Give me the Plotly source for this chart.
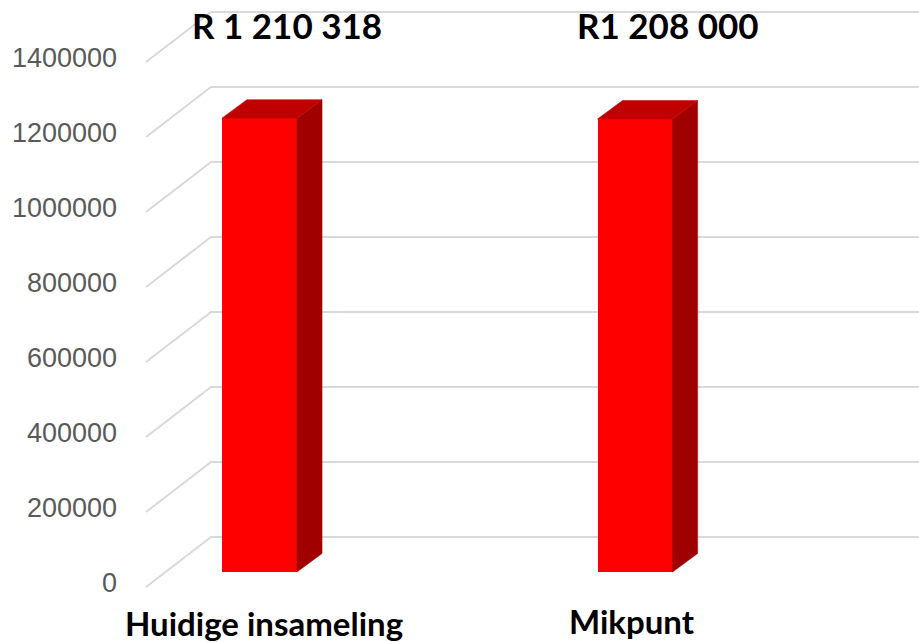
import plotly.graph_objects as go

# ---- data ----
categories = ["Huidige insameling", "Mikpunt"]
values = [1210318, 1208000]
value_labels = ["R 1 210 318", "R1 208 000"]
y_ticks = [0, 200000, 400000, 600000, 800000, 1000000, 1200000, 1400000]

# ---- 3D projection settings (in axis units) ----
X_RANGE = [-0.366, 1.756]
Y_RANGE = [-280000, 1432000]          # back-wall coordinates
WALL_DY = 133333                      # floor depth (front edge -> back wall)
WALL_X_FRONT = -0.302
WALL_X_BACK = -0.129
BAR_W = 0.2
BAR_BASE = -93333                     # bar front base relative to back wall
DEPTH_DX = 0.0666
DEPTH_DY = 49333
LABEL_SHIFT = 122667
VALUE_LABEL_DX = [0.072, 0.089]
CAT_LABEL_DX = [0.012, -0.008]
CAT_LABEL_Y = [1 - 623 / 642, 1 - 621 / 642]

FRONT = "#FF0000"
SIDE = "#A00000"
TOP = "#C00000"
GRID = "#D9D9D9"

fig = go.Figure()

# gridlines (diagonal on the side wall + horizontal on the back wall), below traces
for t in y_ticks:
    path = (f"M {WALL_X_FRONT},{t - WALL_DY} L {WALL_X_BACK},{t} L {X_RANGE[1]},{t}")
    fig.add_shape(type="path", path=path, xref="x", yref="y", layer="below",
                  line=dict(color=GRID, width=2))

xs = list(range(len(categories)))

for x, v in zip(xs, values):
    r = x + BAR_W / 2
    l = x - BAR_W / 2
    top = BAR_BASE + v
    # side face
    fig.add_trace(go.Scatter(
        x=[r, r, r + DEPTH_DX, r + DEPTH_DX, r],
        y=[BAR_BASE, top, top + DEPTH_DY, BAR_BASE + DEPTH_DY, BAR_BASE],
        mode="lines", fill="toself", fillcolor=SIDE, line=dict(color=SIDE, width=0.5),
        hoverinfo="skip", showlegend=False))
    # top face
    fig.add_trace(go.Scatter(
        x=[l, r, r + DEPTH_DX, l + DEPTH_DX, l],
        y=[top, top, top + DEPTH_DY, top + DEPTH_DY, top],
        mode="lines", fill="toself", fillcolor=TOP, line=dict(color=TOP, width=0.5),
        hoverinfo="skip", showlegend=False))

# front faces
fig.add_trace(go.Bar(x=xs, y=values, base=[BAR_BASE] * len(values), width=BAR_W,
                     marker=dict(color=FRONT, line=dict(width=0)),
                     hoverinfo="skip", showlegend=False))

# dummy trace for tick-label axis
fig.add_trace(go.Scatter(x=[X_RANGE[0]] * len(y_ticks), y=y_ticks, yaxis="y2",
                         mode="markers", marker=dict(opacity=0), hoverinfo="skip",
                         showlegend=False))

# value labels above
for x, lab, dx in zip(xs, value_labels, VALUE_LABEL_DX):
    fig.add_annotation(x=x + dx, y=1 - 25 / 642, xref="x", yref="paper", text=lab,
                       showarrow=False, xanchor="center", yanchor="middle",
                       font=dict(family="Lato", size=35, color="#000000", weight="bold"))

# category labels
for x, c, dx, yy in zip(xs, categories, CAT_LABEL_DX, CAT_LABEL_Y):
    fig.add_annotation(x=x + dx, y=yy, xref="x", yref="paper", text=c,
                       showarrow=False, xanchor="center", yanchor="middle",
                       font=dict(family="Lato", size=33, color="#000000", weight="bold"))

fig.update_layout(
    width=919, height=642,
    margin=dict(l=122, r=0, t=0, b=0),
    paper_bgcolor="white", plot_bgcolor="white",
    showlegend=False, bargap=0,
    xaxis=dict(range=X_RANGE, visible=False, fixedrange=True),
    yaxis=dict(range=Y_RANGE, visible=False, fixedrange=True),
    yaxis2=dict(range=[Y_RANGE[0] + LABEL_SHIFT, Y_RANGE[1] + LABEL_SHIFT],
                overlaying="y", side="left", tickmode="array", tickvals=y_ticks,
                ticktext=[str(t) for t in y_ticks], showgrid=False, zeroline=False,
                showline=False, ticks="", ticklabelstandoff=4,
                tickfont=dict(family="Liberation Sans", size=27, color="#5A5A5A"),
                fixedrange=True),
)

fig.write_html("out.html", config={"displayModeBar": False},
               post_script="document.body.style.margin='0px';")
